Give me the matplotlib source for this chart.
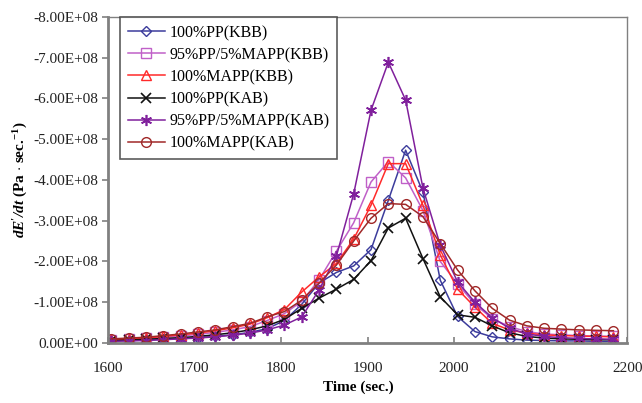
import matplotlib
matplotlib.use("Agg")
import matplotlib.pyplot as plt
from matplotlib.ticker import FixedLocator, FuncFormatter

# sample times (sec.)
times = [1604, 1624, 1644, 1664, 1684, 1704, 1724, 1744, 1764, 1784,
         1804, 1824, 1844, 1864, 1884, 1904, 1924, 1944, 1964, 1984,
         2004, 2024, 2044, 2064, 2084, 2104, 2124, 2144, 2164, 2184]

# dE'/dt magnitudes in units of 1e8 Pa/sec (plotted as negative values)
pp_kbb = [0.05, 0.06, 0.07, 0.09, 0.11, 0.13, 0.16, 0.20, 0.26, 0.35,
          0.55, 0.95, 1.47, 1.73, 1.89, 2.29, 3.50, 4.73, 3.70, 1.54,
          0.65, 0.28, 0.15, 0.10, 0.07, 0.06, 0.05, 0.05, 0.04, 0.04]
pp_mapp_kbb = [0.07, 0.09, 0.11, 0.14, 0.17, 0.21, 0.26, 0.32, 0.40, 0.55,
               0.72, 1.02, 1.55, 2.25, 2.95, 3.95, 4.45, 4.05, 3.25, 2.00,
               1.45, 0.95, 0.60, 0.40, 0.28, 0.22, 0.20, 0.18, 0.17, 0.16]
mapp_kbb = [0.08, 0.10, 0.12, 0.16, 0.20, 0.24, 0.30, 0.37, 0.46, 0.62,
            0.82, 1.25, 1.62, 1.95, 2.55, 3.38, 4.40, 4.40, 3.38, 2.16,
            1.32, 0.88, 0.48, 0.32, 0.24, 0.20, 0.18, 0.17, 0.16, 0.15]
pp_kab = [0.06, 0.07, 0.09, 0.11, 0.13, 0.16, 0.20, 0.25, 0.32, 0.42,
          0.58, 0.85, 1.10, 1.32, 1.56, 2.02, 2.82, 3.06, 2.07, 1.13,
          0.69, 0.63, 0.42, 0.25, 0.16, 0.12, 0.10, 0.09, 0.08, 0.08]
pp_mapp_kab = [0.04, 0.05, 0.06, 0.08, 0.10, 0.12, 0.15, 0.19, 0.24, 0.32,
               0.44, 0.64, 1.30, 2.13, 3.66, 5.71, 6.89, 5.96, 3.80, 2.40,
               1.50, 1.00, 0.62, 0.36, 0.22, 0.16, 0.13, 0.11, 0.10, 0.09]
mapp_kab = [0.10, 0.12, 0.14, 0.18, 0.22, 0.27, 0.32, 0.40, 0.48, 0.64,
            0.77, 1.05, 1.47, 1.91, 2.50, 3.06, 3.42, 3.40, 3.10, 2.44,
            1.79, 1.28, 0.85, 0.56, 0.42, 0.36, 0.34, 0.32, 0.31, 0.30]

labels = ["100%PP(KBB)", "95%PP/5%MAPP(KBB)", "100%MAPP(KBB)",
          "100%PP(KAB)", "95%PP/5%MAPP(KAB)", "100%MAPP(KAB)"]
y_ticks = [0, -1e8, -2e8, -3e8, -4e8, -5e8, -6e8, -7e8, -8e8]
x_ticks = [1600, 1700, 1800, 1900, 2000, 2100, 2200]

plt.rcParams['font.family'] = ['Liberation Serif', 'DejaVu Serif']
plt.rcParams['mathtext.fontset'] = 'custom'
plt.rcParams['mathtext.rm'] = 'Liberation Serif'
plt.rcParams['mathtext.it'] = 'Liberation Serif:italic'
plt.rcParams['mathtext.bf'] = 'Liberation Serif:bold'
plt.rcParams['mathtext.bfit'] = 'Liberation Serif:bold:italic'

fig = plt.figure(figsize=(6.42, 4.03), dpi=100)
ax = fig.add_axes([0.168, 0.149, 0.809, 0.809])

series = [pp_kbb, pp_mapp_kbb, mapp_kbb, pp_kab, pp_mapp_kab, mapp_kab]
styles = [
    dict(color='#3c3c9c', marker='D', ms=5.5, mfc='none', mew=1.0),
    dict(color='#c060c8', marker='s', ms=6.5, mfc='none', mew=1.0),
    dict(color='#ff2a2a', marker='^', ms=7, mfc='none', mew=1.0),
    dict(color='#111111', marker='x', ms=7, mew=1.2),
    dict(color='#80209c', marker=(6, 2, 0), ms=8, mew=1.2),
    dict(color='#a02828', marker='o', ms=7, mfc='none', mew=1.0),
]

for vals, lab, st in zip(series, labels, styles):
    y = [-v * 1e8 for v in vals]
    ax.plot(times, y, lw=1.1, label=lab, **st)

ax.set_xlim(1600, 2200)
ax.set_ylim(0, -8e8)
ax.xaxis.set_major_locator(FixedLocator(x_ticks))
ax.yaxis.set_major_locator(FixedLocator(y_ticks))
ax.yaxis.set_major_formatter(FuncFormatter(
    lambda v, p: "0.00E+00" if v == 0 else "%.2E" % v))

for s in ['left', 'bottom']:
    ax.spines[s].set_color('#808080')
    ax.spines[s].set_linewidth(2)
for s in ['top', 'right']:
    ax.spines[s].set_color('#808080')
    ax.spines[s].set_linewidth(1)

ax.tick_params(axis='y', direction='out', length=4, width=1.2,
               color='#808080', labelsize=11, pad=3, labelcolor='#222222')
ax.tick_params(axis='x', direction='in', length=4, width=1.2,
               color='#808080', labelsize=11, pad=14, labelcolor='#222222')

ax.set_xlabel("Time (sec.)", fontsize=11, fontweight='bold', labelpad=4)
ax.xaxis.label.set_x(0.483)
ax.set_ylabel(r"$\mathbfit{dE'/dt}$ (Pa $\cdot$ sec.$^{\mathbf{-1}}$)",
              fontsize=11, fontweight='bold', labelpad=2)

leg = ax.legend(loc='upper left', bbox_to_anchor=(0.023, 1.0),
                fontsize=11.5, frameon=True, fancybox=False,
                edgecolor='#333333', handlelength=2.3, labelspacing=0.38,
                borderpad=0.5, handletextpad=0.3, borderaxespad=0)
leg.get_frame().set_linewidth(1.2)

fig.savefig("out.png", dpi=100)
